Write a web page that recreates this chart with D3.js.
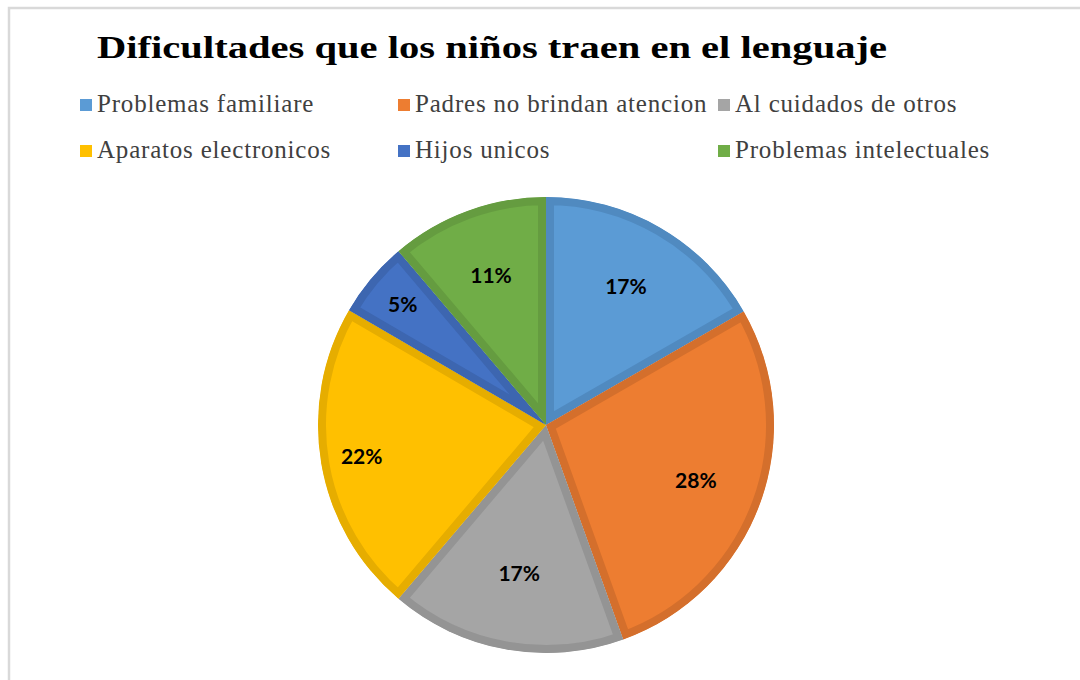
<!DOCTYPE html>
<html>
<head>
<meta charset="utf-8">
<script src="https://cdn.jsdelivr.net/npm/d3@7"></script>
<style>
  body { margin: 0; background: #fff; }
</style>
</head>
<body>
<script>
const width = 1080
const height = 680

// data
const categories = ['Problemas familiare', 'Padres no brindan atencion', 'Al cuidados de otros',
    'Aparatos electronicos', 'Hijos unicos', 'Problemas intelectuales']
const values = [16.7, 27.8, 16.7, 22.2, 5.4, 11.2]
const title = 'Dificultades que los niños traen en el lenguaje'

const fills = ['#5b9bd5', '#ed7d31', '#a5a5a5', '#ffc000', '#4472c4', '#70ad47']
const borders = ['#508ac0', '#d46f2c', '#949494', '#e6ad00', '#3d66b0', '#659c40']

// label distance as fraction of radius (excel best fit)
const labelR = [0.70, 0.70, 0.66, 0.82, 0.82, 0.70]

const cx = 546, cy = 425, radius = 228

const svg = d3.select('body')
    .append('svg')
    .attr('width', width)
    .attr('height', height)

// chart frame
svg.append('rect')
    .attr('x', 9)
    .attr('y', 8)
    .attr('width', width + 20)
    .attr('height', height + 20)
    .attr('fill', '#fff')
    .attr('stroke', '#d9d9d9')
    .attr('stroke-width', 2.5)

svg.append('text')
    .attr('x', 492)
    .attr('y', 58)
    .attr('text-anchor', 'middle')
    .attr('font-family', '"Liberation Serif", "DejaVu Serif", serif')
    .attr('font-weight', 'bold')
    .attr('font-size', 32)
    .attr('textLength', 790)
    .attr('lengthAdjust', 'spacingAndGlyphs')
    .attr('fill', '#000')
    .text(title)

// legend
const legendCols = [80, 398, 718]
const legendRows = [112, 158]
const legend = svg.append('g')
    .selectAll('g')
    .data(categories)
    .enter().append('g')
    .attr('transform', (d, i) => `translate(${legendCols[i % 3]},${legendRows[Math.floor(i / 3)]})`)

legend.append('rect')
    .attr('x', 0)
    .attr('y', -13)
    .attr('width', 12)
    .attr('height', 12)
    .attr('fill', (d, i) => fills[i])

legend.append('text')
    .attr('x', 17)
    .attr('y', 0)
    .attr('font-family', '"Liberation Serif", "DejaVu Serif", serif')
    .attr('font-size', 25)
    .attr('letter-spacing', 0.8)
    .attr('fill', '#404040')
    .text(d => d)

// pie
const pie = d3.pie().sort(null).value(d => d)
const arcs = pie(values)
const arc = d3.arc().innerRadius(0).outerRadius(radius)

const g = svg.append('g')
    .attr('transform', `translate(${cx},${cy})`)

const defs = svg.append('defs')
defs.selectAll('clipPath')
    .data(arcs)
    .enter().append('clipPath')
    .attr('id', (d, i) => 'clip' + i)
    .append('path')
    .attr('d', arc)

g.selectAll('.slice')
    .data(arcs)
    .enter().append('path')
    .attr('class', 'slice')
    .attr('d', arc)
    .attr('fill', (d, i) => fills[i])
    .attr('stroke', (d, i) => borders[i])
    .attr('stroke-width', 16)
    .attr('stroke-linejoin', 'round')
    .attr('clip-path', (d, i) => `url(#clip${i})`)

const total = d3.sum(values)
g.selectAll('.label')
    .data(arcs)
    .enter().append('text')
    .attr('class', 'label')
    .attr('transform', (d, i) => {
        const a = (d.startAngle + d.endAngle) / 2
        const r = radius * labelR[i]
        return `translate(${Math.sin(a) * r},${-Math.cos(a) * r})`
    })
    .attr('text-anchor', 'middle')
    .attr('dy', '0.36em')
    .attr('font-family', 'Lato, "Open Sans", sans-serif')
    .attr('font-weight', 'bold')
    .attr('font-size', 21)
    .attr('fill', '#000')
    .text(d => Math.round(d.value / total * 100) + '%')
</script>
</body>
</html>
